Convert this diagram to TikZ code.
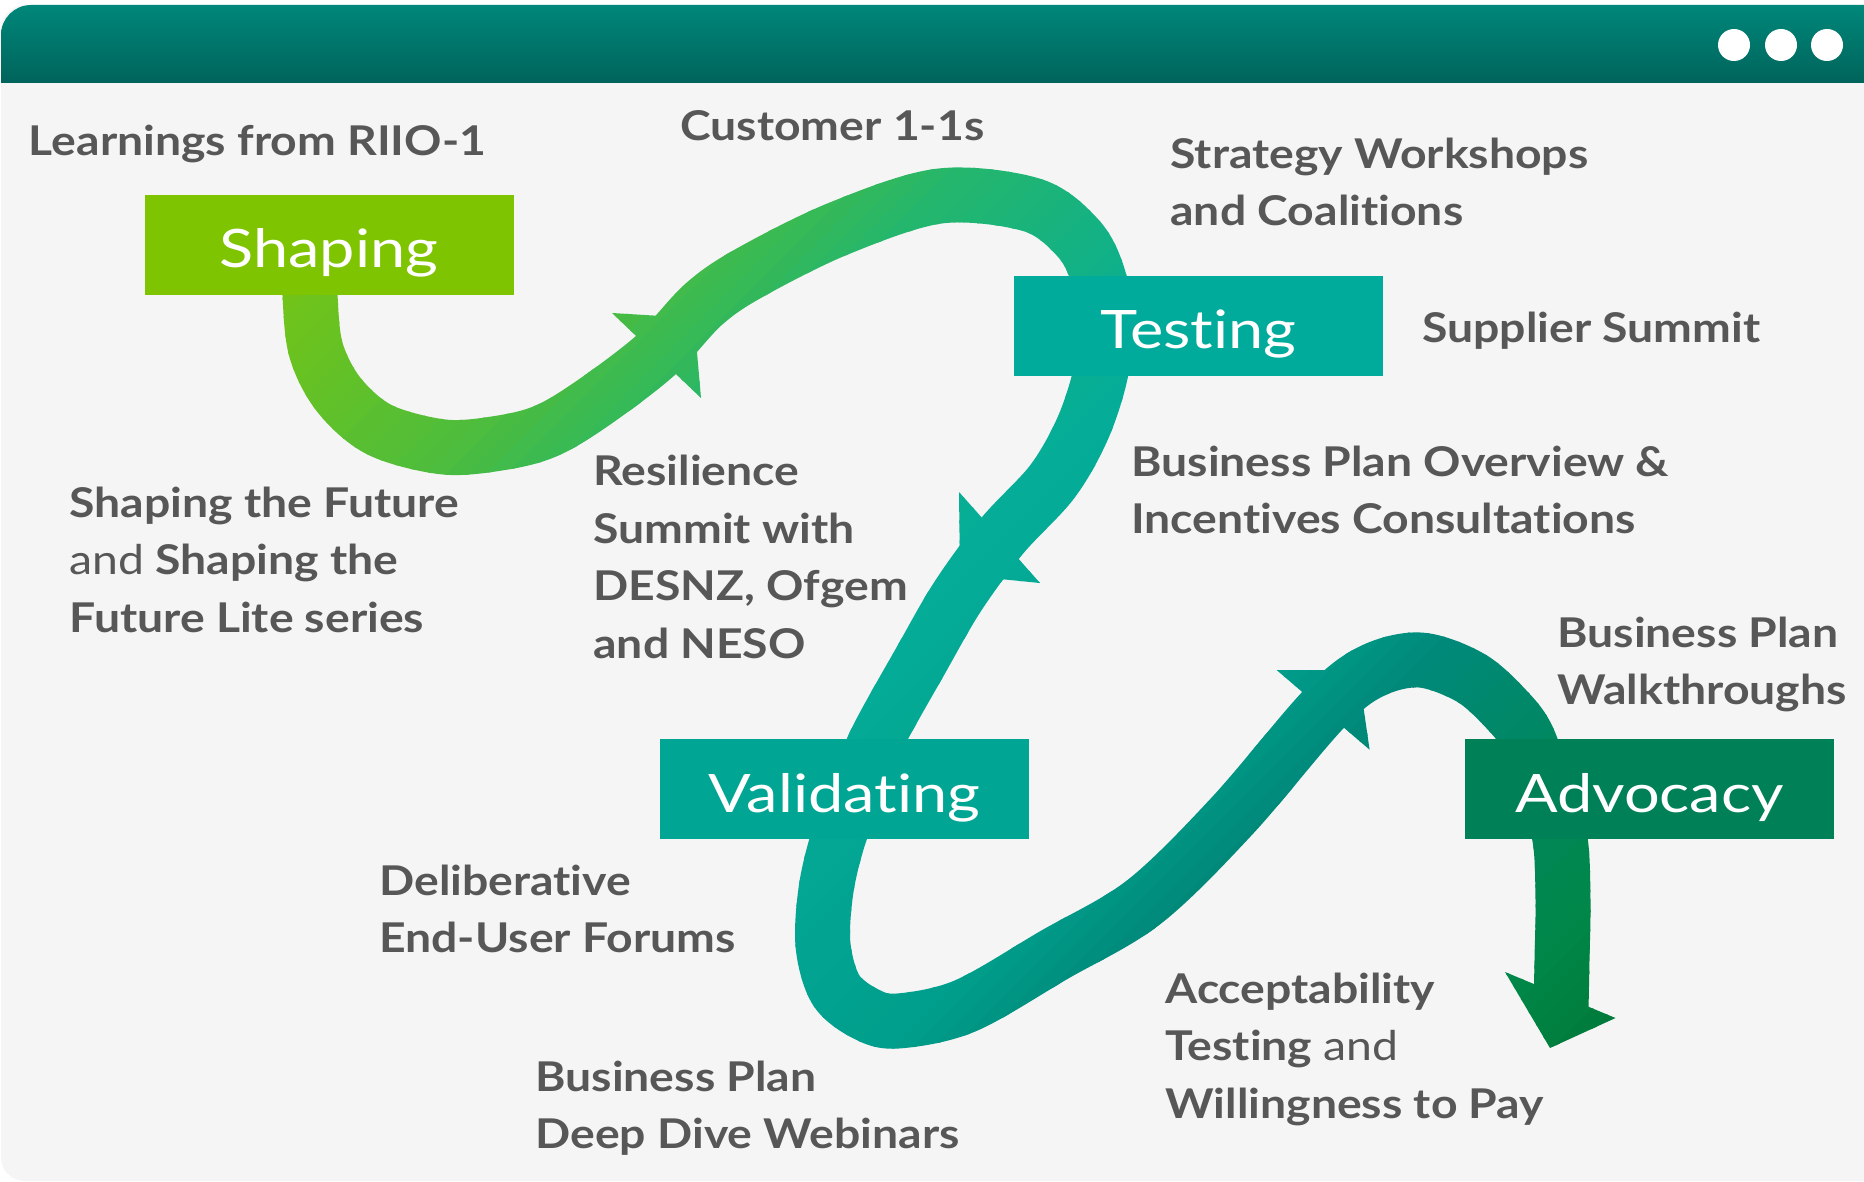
\documentclass[tikz,border=0pt]{standalone}
\usepackage{fontspec}
\setmainfont{Lato}[FakeStretch=1.13, Ligatures=NoCommon]
\newfontfamily\stagefont{Lato}[FakeStretch=1.19, Ligatures=NoCommon]
\definecolor{tgrey}{HTML}{575757}
\definecolor{panelgrey}{HTML}{F5F5F5}
\definecolor{barTop}{HTML}{00877A}
\definecolor{barBot}{HTML}{00645B}
\definecolor{cShaping}{HTML}{7EC400}
\definecolor{cTesting}{HTML}{00AB9B}
\definecolor{cValidating}{HTML}{00A594}
\definecolor{cAdvocacy}{HTML}{008056}
\definecolor{g0}{RGB}{116,196,22}
\definecolor{g1}{RGB}{78,189,60}
\definecolor{g2}{RGB}{36,182,108}
\definecolor{g3}{RGB}{5,173,152}
\definecolor{g4}{RGB}{0,158,140}
\definecolor{g5}{RGB}{0,137,122}
\definecolor{g6}{RGB}{0,135,72}
\definecolor{g7}{RGB}{0,122,58}
\newcommand\ribmix[4]{%
  \pgfmathsetmacro\ribP{max(0,min(100,(\ribS-#1)/(#2-#1)*100))}%
  \colorlet{rc}{#4!\ribP!#3}}
\newcommand\ribset[1]{%
  \pgfmathsetmacro\ribS{#1}%
  \ifdim\ribS pt<900pt \ribmix{560}{900}{g0}{g1}%
  \else\ifdim\ribS pt<1130pt \ribmix{900}{1130}{g1}{g2}%
  \else\ifdim\ribS pt<1500pt \ribmix{1130}{1500}{g2}{g3}%
  \else\ifdim\ribS pt<1940pt \ribmix{1500}{1940}{g3}{g4}%
  \else\ifdim\ribS pt<2085pt \ribmix{1940}{2085}{g4}{g5}%
  \else\ifdim\ribS pt<2500pt \ribmix{2085}{2500}{g5}{g6}%
  \else \ribmix{2500}{2640}{g6}{g7}%
  \fi\fi\fi\fi\fi\fi}
\newcommand\fl{\rule{0pt}{20pt}}
\begin{document}
\begin{tikzpicture}[x=0.5pt,y=-0.5pt,
  lbl/.style={anchor=north west, inner sep=0pt, align=left, text=tgrey,
    font=\fontsize{20.5pt}{28.75pt}\selectfont\bfseries},
  stagebox/.style={rectangle, minimum width=184.5pt, minimum height=50pt, inner sep=0pt,
    text=white, font=\stagefont\fontsize{26.5pt}{30pt}\selectfont, text height=23pt, text depth=0pt},
  dotw/.style={circle, fill=white, minimum size=16pt, inner sep=0pt},
  ribbonpath/.style={insert path={plot[smooth, tension=0.55] coordinates {
    (310,250) (310,295) (316,350) (339,395) (380,430) (444,447) (500,443) (546,431)
    (593,403) (656,355) (704,304) (751,272) (840,228) (940,196) (1032,205) (1078,238)
    (1098,276) (1106,326) (1100,376) (1082,430) (1052,482) (1002,536) (958,596) (921,660)
    (877,739) (857,789) (838,839) (826,890) (823,945) (836,990) (866,1014) (898,1021)
    (965,1006) (1054,955) (1144,902) (1232,816) (1323,710) (1370,672) (1420,660)
    (1471,678) (1508,711) (1528,739) (1545,790) (1560,839) (1563,900) (1562,960) (1561,1010)}}}
]
\useasboundingbox (0,0) rectangle (1864,1182);
\clip (0,0) rectangle (1864,1182);
% window
\fill[white] (0,0) rectangle (1864,1182);
\fill[panelgrey, rounded corners=12pt] (1,5) rectangle (1920,1181);
\shade[top color=barTop, bottom color=barBot] (1,83) [rounded corners=15pt] -- (1,5) -- (1920,5) [sharp corners] -- (1920,83) -- cycle;
\node[dotw] (dot1) at (1734,45) {};
\node[dotw] (dot2) at (1781,45) {};
\node[dotw] (dot3) at (1827,45) {};
% barb coordinates
\coordinate (b1a) at (612,313); \coordinate (b1b) at (694,318); \coordinate (b1c) at (701,398);
\coordinate (b2a) at (959,492); \coordinate (b2b) at (960,575); \coordinate (b2c) at (1040,583);
\coordinate (b3a) at (1276.6,670); \coordinate (b3b) at (1358,670); \coordinate (b3c) at (1369.6,749.7);
\coordinate (hda) at (1505,972); \coordinate (hdb) at (1550,1048); \coordinate (hdc) at (1615.5,1018);
% ribbon with diagonal gradient (bands)
\foreach \k in {0,...,105}{
  \pgfmathsetmacro\sa{540+20*\k}
  \pgfmathsetmacro\sb{\sa+23}
  \ribset{\sa+10}
  \begin{scope}
    \clip (\sa+150,-150) -- (\sb+150,-150) -- (\sb-1350,1350) -- (\sa-1350,1350) -- cycle;
    \draw[rc, line width=27.5pt, line join=round, ribbonpath];
    \fill[rc] (b1a) -- (b1b) -- (b1c) -- cycle;
    \fill[rc] (b2a) -- (b2b) -- (b2c) -- cycle;
    \fill[rc] (b3a) -- (b3b) -- (b3c) -- cycle;
    \fill[rc] (hda) -- (hdb) -- (hdc) -- cycle;
  \end{scope}
}
% stage boxes
\node[stagebox, fill=cShaping] (shaping) at (329,245) {Shaping};
\node[stagebox, fill=cTesting] (testing) at (1198.5,326) {Testing};
\node[stagebox, fill=cValidating] (validating) at (844.5,789) {Validating};
\node[stagebox, fill=cAdvocacy] (advocacy) at (1649.5,789) {Advocacy};
% labels
\node[lbl] (t1) at (28.5,115) {\fl Learnings from RIIO-1};
\node[lbl] (t2) at (680,100) {\fl Customer 1-1s};
\node[lbl] (t3) at (1170,128) {\fl Strategy Workshops\\and Coalitions};
\node[lbl] (t4) at (1422,302) {\fl Supplier Summit};
\node[lbl] (t5) at (1131,436) {\fl Business Plan Overview \&\\Incentives Consultations};
\node[lbl] (t6) at (1557,607) {\fl Business Plan\\Walkthroughs};
\node[lbl] (t7) at (69,477) {\fl Shaping the Future\\{\mdseries and} Shaping the\\Future Lite series};
\node[lbl] (t8) at (593,445.5) {\fl Resilience\\Summit with\\DESNZ, Ofgem\\and NESO};
\node[lbl] (t9) at (379,855) {\fl Deliberative\\End-User Forums};
\node[lbl] (t10) at (535,1051) {\fl Business Plan\\Deep Dive Webinars};
\node[lbl] (t11) at (1165,963) {\fl Acceptability\\Testing {\mdseries and}\\Willingness to Pay};
\end{tikzpicture}
\end{document}
